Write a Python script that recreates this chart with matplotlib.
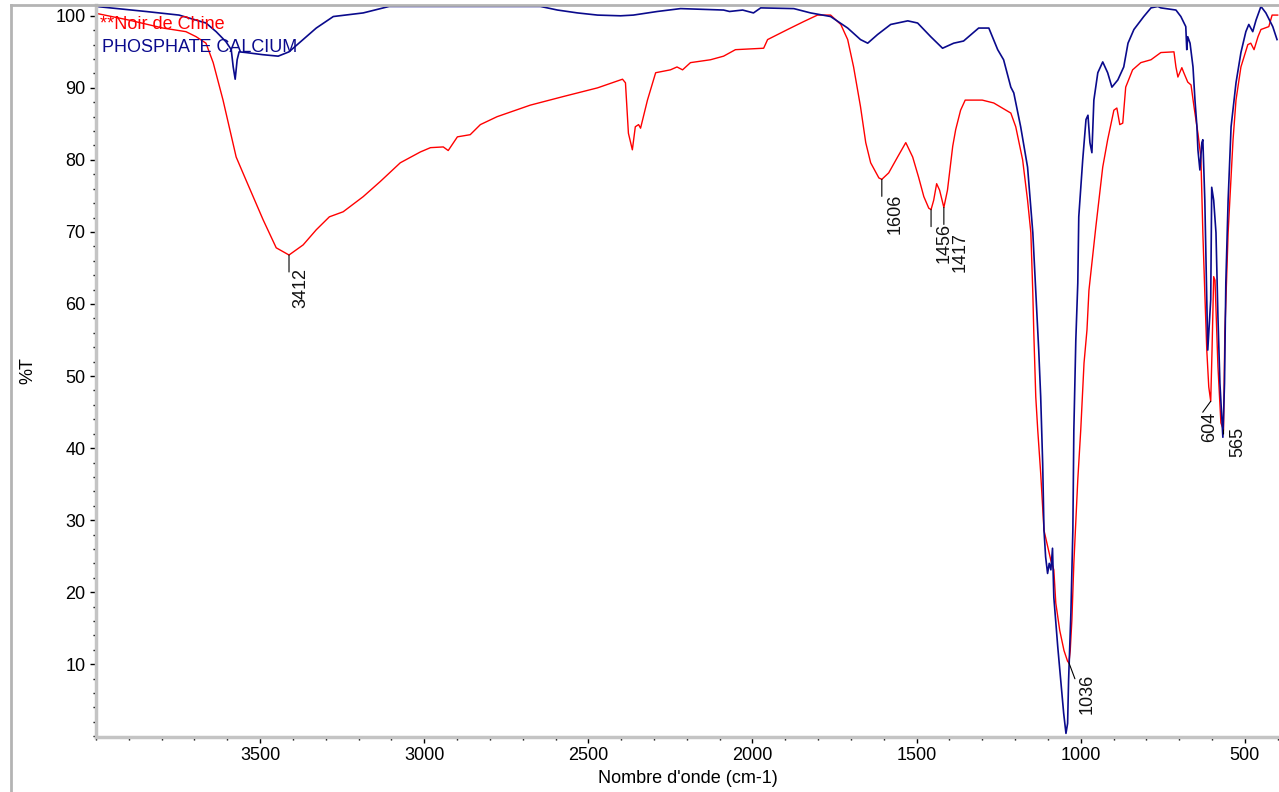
import matplotlib
matplotlib.use('Agg')
import matplotlib.pyplot as plt
from matplotlib.lines import Line2D
from matplotlib.ticker import MultipleLocator

plt.rcParams['font.family'] = ['Liberation Sans', 'DejaVu Sans']

# FTIR spectra, wavenumber (cm-1) / %T
noir_wn = [3995, 3899, 3796, 3726, 3695, 3665, 3643, 3613, 3573, 3543, 3491, 3451, 3412,
           3369, 3329, 3289, 3247, 3186, 3134, 3073, 3012, 2981, 2942, 2927, 2899, 2860,
           2829, 2778, 2677, 2576, 2472, 2396, 2387, 2378, 2366, 2357, 2347, 2341, 2320,
           2295, 2250, 2230, 2213, 2189, 2128, 2088, 2052, 1966, 1954, 1893, 1844, 1802,
           1762, 1731, 1710, 1692, 1671, 1655, 1640, 1615, 1606, 1585, 1558, 1533, 1512,
           1494, 1478, 1463, 1456, 1448, 1439, 1430, 1417, 1406, 1390, 1381, 1366, 1352,
           1300, 1265, 1213, 1198, 1177, 1162, 1152, 1146, 1143, 1137, 1131, 1122, 1112,
           1091, 1082, 1076, 1064, 1051, 1040, 1036, 1032, 1027, 1021, 1009, 1000, 990,
           981, 975, 954, 933, 918, 899, 890, 881, 872, 863, 842, 817, 786, 756, 716, 710,
           704, 692, 686, 674, 664, 655, 643, 634, 628, 622, 616, 610, 604, 600, 595, 591,
           582, 573, 565, 561, 551, 536, 527, 512, 491, 482, 472, 460, 451, 427, 417, 400]
noir_t = [100.3, 99.4, 98.3, 97.8, 97.1, 96.2, 93.5, 88.3, 80.4, 77.2, 71.7, 67.8, 66.8,
          68.2, 70.3, 72.1, 72.8, 74.9, 77.0, 79.6, 81.1, 81.7, 81.8, 81.3, 83.2, 83.5,
          84.9, 86.0, 87.6, 88.8, 90.0, 91.2, 90.7, 83.7, 81.4, 84.6, 84.9, 84.4, 88.3,
          92.1, 92.5, 92.9, 92.5, 93.5, 93.9, 94.4, 95.3, 95.5, 96.7, 98.1, 99.2, 100.1,
          100.1, 98.8, 96.7, 92.9, 87.4, 82.4, 79.6, 77.5, 77.3, 78.2, 80.4, 82.4, 80.4,
          77.6, 74.9, 73.3, 73.1, 74.4, 76.7, 75.8, 73.4, 75.8, 81.9, 84.2, 86.9, 88.3,
          88.3, 87.9, 86.5, 84.6, 80.0, 74.4, 69.9, 61.5, 56.0, 47.1, 42.5, 36.5, 28.6,
          24.4, 23.1, 18.5, 14.7, 11.9, 10.4, 10.2, 11.9, 16.1, 24.0, 35.6, 42.5, 51.8,
          56.4, 61.9, 70.7, 79.0, 82.8, 86.9, 87.2, 84.9, 85.1, 90.1, 92.5, 93.5, 93.9,
          94.9, 95.0, 92.9, 91.5, 92.8, 92.1, 90.8, 90.4, 87.4, 83.7, 80.4, 69.9, 61.5,
          53.6, 48.5, 46.5, 53.6, 63.8, 63.3, 51.3, 43.5, 42.5, 56.0, 69.9, 82.8, 88.3,
          92.9, 96.0, 96.2, 95.3, 97.1, 98.1, 98.5, 100.1, 100.1]

phos_wn = [4000, 3848, 3747, 3665, 3634, 3604, 3588, 3582, 3576, 3570, 3564, 3543, 3491,
           3445, 3412, 3369, 3329, 3277, 3186, 3107, 2646, 2594, 2533, 2472, 2402, 2363,
           2290, 2219, 2088, 2070, 2030, 1997, 1975, 1874, 1823, 1762, 1710, 1671, 1649,
           1619, 1579, 1527, 1497, 1457, 1421, 1387, 1357, 1311, 1280, 1253, 1235, 1213,
           1204, 1183, 1162, 1146, 1137, 1128, 1122, 1116, 1112, 1107, 1101, 1096, 1091,
           1086, 1082, 1070, 1061, 1052, 1045, 1040, 1037, 1030, 1024, 1021, 1015, 1009,
           1006, 994, 984, 978, 972, 966, 960, 948, 933, 918, 905, 887, 869, 856, 838, 808,
           786, 765, 756, 710, 695, 680, 677, 674, 667, 658, 652, 646, 643, 637, 631, 628,
           622, 616, 613, 607, 604, 601, 595, 588, 582, 576, 567, 562, 558, 551, 542, 527,
           512, 497, 488, 476, 466, 451, 436, 415, 402]
phos_t = [101.3, 100.6, 100.1, 99.0, 97.8, 96.4, 95.3, 92.9, 91.2, 93.9, 95.0, 94.9, 94.6,
          94.4, 95.0, 96.7, 98.3, 99.9, 100.4, 101.3, 101.3, 100.8, 100.4, 100.1, 100.0,
          100.1, 100.6, 101.0, 100.8, 100.6, 100.8, 100.4, 101.1, 101.0, 100.4, 99.9, 98.3,
          96.7, 96.2, 97.4, 98.8, 99.3, 99.0, 97.1, 95.5, 96.2, 96.5, 98.3, 98.3, 95.3,
          93.9, 90.1, 89.3, 84.6, 79.0, 69.9, 61.9, 53.6, 47.1, 37.9, 28.6, 24.9, 22.6,
          24.0, 23.1, 26.1, 19.3, 12.4, 7.8, 3.2, 0.4, 1.8, 7.8, 17.1, 28.6, 42.5, 55.0,
          62.9, 72.1, 80.0, 85.6, 86.2, 82.4, 81.0, 88.3, 92.1, 93.6, 92.1, 90.1, 91.1,
          92.9, 96.2, 98.1, 99.9, 101.1, 101.3, 101.1, 100.8, 99.9, 98.5, 95.3, 97.1, 96.2,
          92.9, 88.3, 84.6, 81.4, 78.6, 82.4, 82.8, 74.4, 60.6, 53.6, 58.2, 60.6, 76.2,
          74.4, 69.9, 58.2, 49.0, 41.5, 49.0, 62.9, 74.4, 84.6, 90.7, 94.9, 97.8, 98.8,
          97.8, 99.4, 101.3, 100.4, 98.5, 96.7]

peak_wn = [3412, 1606, 1456, 1417, 1036, 604, 565]
peak_t = [66.8, 77.3, 73.1, 73.4, 10.2, 46.5, 42.5]
peak_labels = ['3412', '1606', '1456', '1417', '1036', '604', '565']

# pixel offsets for leader ends and label tops
leader_end = [(0, -17), (0, -17), (0, -17), (0, -17), (6, -16), (-8, -11), (0, -4)]
label_pos = [(12, -13), (13, -14), (13, -13), (16, -25), (18, -11), (-1, -10), (14, 3)]

fig = plt.figure(figsize=(12.79, 7.92), dpi=100)
ax = fig.add_axes([96 / 1279, 55 / 792, 1183 / 1279, 732 / 792])

ax.plot(noir_wn, noir_t, color='#ff0000', lw=1.0)
ax.plot(phos_wn, phos_t, color='#0a0a8c', lw=1.2)

for wn, t, lab, le, lp in zip(peak_wn, peak_t, peak_labels, leader_end, label_pos):
    ax.annotate('', xy=(wn, t), xytext=le, textcoords='offset pixels',
                arrowprops=dict(arrowstyle='-', color='k', lw=0.8, shrinkA=0, shrinkB=0))
    ax.annotate(lab, xy=(wn, t), xytext=lp, textcoords='offset pixels',
                rotation=90, ha='center', va='top', fontsize=13, color='#111111')

ax.text(0.003, 0.985, '**Noir de Chine', transform=ax.transAxes, color='#ff0000',
        fontsize=13, va='top', ha='left')
ax.text(0.005, 0.953, 'PHOSPHATE CALCIUM', transform=ax.transAxes, color='#0a0a8c',
        fontsize=13, va='top', ha='left')

ax.set_xlim(4000, 396)
ax.set_ylim(-0.1, 101.5)
ax.set_xticks([3500, 3000, 2500, 2000, 1500, 1000, 500])
ax.set_yticks(range(10, 101, 10))
ax.xaxis.set_minor_locator(MultipleLocator(100))
ax.yaxis.set_minor_locator(MultipleLocator(2))
ax.tick_params(which='major', length=4, width=1, color='k', labelsize=13, direction='out')
ax.tick_params(which='minor', length=2.5, width=1, color='k', direction='out')

for s in ['top', 'right']:
    ax.spines[s].set_visible(False)
for s in ['left', 'bottom']:
    ax.spines[s].set_color('#c4c4c4')
    ax.spines[s].set_linewidth(2.5)

ax.set_xlabel("Nombre d'onde (cm-1)", fontsize=13)
ax.set_ylabel('%T', fontsize=13)
ax.xaxis.set_label_coords(0.5, -0.045)
ax.yaxis.set_label_coords(-0.050, 0.5)

# window frame
fig.add_artist(Line2D([11 / 1279, 11 / 1279], [0, 787 / 792], color='#b4b4b4', lw=2))
fig.add_artist(Line2D([11 / 1279, 1], [787 / 792, 787 / 792], color='#b4b4b4', lw=2))

fig.savefig('out.png', dpi=100)
